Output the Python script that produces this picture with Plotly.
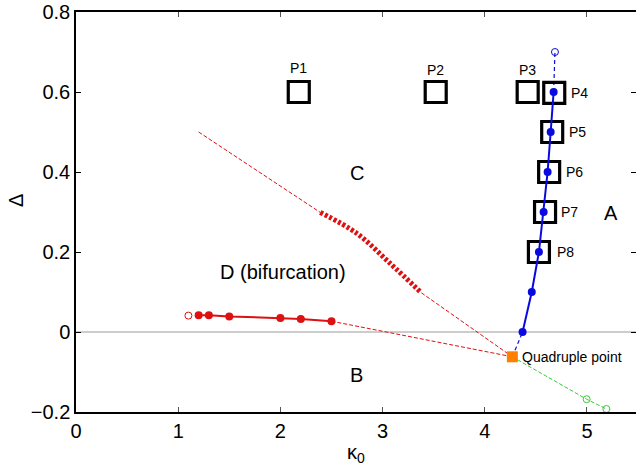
import plotly.graph_objects as go

# ---- data ----
quad_k, quad_d = [4.27], [-0.062]

red_solid_k = [1.2, 1.3, 1.5, 2.0, 2.2, 2.5]
red_solid_d = [0.042, 0.042, 0.039, 0.035, 0.0325, 0.027]
red_open_k = [1.1]
red_open_d = [0.041]
red_low_dash_k = [2.5, 4.27]
red_low_dash_d = [0.027, -0.062]

red_up1_k = [1.2, 2.39]
red_up1_d = [0.5, 0.299]
red_thick_k = [2.39, 2.746, 3.072, 3.38]
red_thick_d = [0.299, 0.247, 0.172, 0.098]
red_up2_k = [3.38, 4.27]
red_up2_d = [0.098, -0.062]

blue_dash_low_k = [4.27, 4.37]
blue_dash_low_d = [-0.062, 0.0]
blue_k = [4.37, 4.46, 4.53, 4.576, 4.615, 4.645, 4.674]
blue_d = [0.0, 0.1, 0.2, 0.3, 0.4, 0.5, 0.6]
blue_dash_up_k = [4.674, 4.687]
blue_dash_up_d = [0.6, 0.7]

green_k = [4.27, 4.997, 5.19]
green_d = [-0.062, -0.168, -0.1925]

sq_labels = ["P1", "P2", "P3", "P4", "P5", "P6", "P7", "P8"]
sq_k = [2.18, 3.52, 4.42, 4.68, 4.66, 4.63, 4.59, 4.53]
sq_d = [0.6, 0.6, 0.6, 0.598, 0.5, 0.4, 0.3, 0.2]

xticks = [0, 1, 2, 3, 4, 5]
yticks = [-0.2, 0, 0.2, 0.4, 0.6, 0.8]
ytick_text = ["\u22120.2", "0", "0.2", "0.4", "0.6", "0.8"]

FONT = "Liberation Sans, Arial, Helvetica, sans-serif"
RED = "#dd1111"
BLUE = "#0a0ae0"
GREEN = "#33cc33"

fig = go.Figure()

# zero line
fig.add_trace(go.Scatter(x=[0, 5.48], y=[0, 0], mode="lines",
                         line=dict(color="#999999", width=1), hoverinfo="skip"))

# red lines
fig.add_trace(go.Scatter(x=red_low_dash_k, y=red_low_dash_d, mode="lines",
                         line=dict(color=RED, width=1, dash="4px,2px")))
fig.add_trace(go.Scatter(x=red_up1_k, y=red_up1_d, mode="lines",
                         line=dict(color=RED, width=1, dash="4px,2px")))
fig.add_trace(go.Scatter(x=red_up2_k, y=red_up2_d, mode="lines",
                         line=dict(color=RED, width=1, dash="4px,2px")))
fig.add_trace(go.Scatter(x=red_thick_k, y=red_thick_d, mode="lines",
                         line=dict(color=RED, width=5, dash="3px,2px", shape="spline")))
fig.add_trace(go.Scatter(x=red_solid_k, y=red_solid_d, mode="lines+markers",
                         line=dict(color=RED, width=2),
                         marker=dict(color=RED, size=8)))
fig.add_trace(go.Scatter(x=red_open_k, y=red_open_d, mode="markers",
                         marker=dict(color=RED, size=7, symbol="circle-open", line=dict(width=1))))

# green
fig.add_trace(go.Scatter(x=green_k, y=green_d, mode="lines",
                         line=dict(color=GREEN, width=1, dash="4px,2px")))
fig.add_trace(go.Scatter(x=green_k[1:], y=green_d[1:], mode="markers",
                         marker=dict(color=GREEN, size=7, symbol="circle-open", line=dict(width=1))))

# blue
fig.add_trace(go.Scatter(x=blue_dash_low_k, y=blue_dash_low_d, mode="lines",
                         line=dict(color=BLUE, width=1.2, dash="4px,3px")))
fig.add_trace(go.Scatter(x=blue_dash_up_k, y=blue_dash_up_d, mode="lines",
                         line=dict(color=BLUE, width=1.2, dash="4px,3px")))
fig.add_trace(go.Scatter(x=[blue_dash_up_k[-1]], y=[blue_dash_up_d[-1]], mode="markers",
                         marker=dict(color=BLUE, size=7, symbol="circle-open", line=dict(width=1))))

# squares
fig.add_trace(go.Scatter(x=sq_k, y=sq_d, mode="markers",
                         marker=dict(symbol="square-open", size=21, color="black",
                                     line=dict(width=3.2, color="black"))))

fig.add_trace(go.Scatter(x=blue_k, y=blue_d, mode="lines+markers",
                         line=dict(color=BLUE, width=2),
                         marker=dict(color=BLUE, size=8)))

# quadruple point
fig.add_trace(go.Scatter(x=quad_k, y=quad_d, mode="markers",
                         marker=dict(symbol="square", size=11, color="#ff8000")))

# y-axis mirrored ticks without line (right)
fig.add_trace(go.Scatter(x=[0], y=[0], yaxis="y2", mode="markers",
                         marker=dict(opacity=0), hoverinfo="skip"))

ann = []
def txt(x, y, t, size, xanchor="center"):
    ann.append(dict(x=x, y=y, text=t, showarrow=False, xanchor=xanchor, yanchor="middle",
                    font=dict(size=size, color="black", family=FONT)))

# square labels
txt(2.18, 0.66, "P1", 14)
txt(3.52, 0.656, "P2", 14)
txt(4.42, 0.656, "P3", 14)
txt(4.824, 0.597, "P4", 14, "left")
txt(4.80, 0.5, "P5", 14, "left")
txt(4.78, 0.4, "P6", 14, "left")
txt(4.73, 0.3, "P7", 14, "left")
txt(4.687, 0.2, "P8", 14, "left")
txt(4.345, -0.062, "Quadruple point", 14, "left")

# region labels
txt(2.75, 0.397, "C", 20)
txt(2.03, 0.151, "D (bifurcation)", 20)
txt(5.235, 0.297, "A", 20)
txt(2.74, -0.107, "B", 20)

# y axis title (placed to match reference)
ann.append(dict(x=-0.107, y=0.5275, xref="paper", yref="paper", text="\u0394",
                textangle=-90, showarrow=False, xanchor="center", yanchor="middle",
                font=dict(size=20, color="black", family=FONT)))

fig.update_layout(
    width=636, height=466,
    margin=dict(l=76, r=0, t=12, b=54),
    paper_bgcolor="white", plot_bgcolor="white",
    showlegend=False,
    font=dict(family=FONT, size=20, color="black"),
    annotations=ann,
    xaxis=dict(range=[0, 5.48], tickmode="array", tickvals=xticks,
               ticks="inside", ticklen=5, tickwidth=1, tickcolor="#555",
               showline=True, linecolor="black", linewidth=1.5, mirror="ticks",
               showgrid=False, zeroline=False,
               tickfont=dict(size=20, family=FONT),
               title=dict(text="\u03ba<sub>0</sub>", font=dict(size=20, family=FONT), standoff=6)),
    yaxis=dict(range=[-0.2, 0.8], tickmode="array", tickvals=yticks, ticktext=ytick_text,
               ticks="inside", ticklen=5, tickwidth=1, tickcolor="black",
               showline=True, linecolor="black", linewidth=1.5, mirror=False,
               showgrid=False, zeroline=False,
               tickfont=dict(size=20, family=FONT)),
    yaxis2=dict(range=[-0.2, 0.8], overlaying="y", side="right", anchor="x",
                tickmode="array", tickvals=yticks, showticklabels=False,
                ticks="inside", ticklen=5, tickwidth=1, tickcolor="black",
                showline=False, showgrid=False, zeroline=False),
)

fig.write_html("out.html")
